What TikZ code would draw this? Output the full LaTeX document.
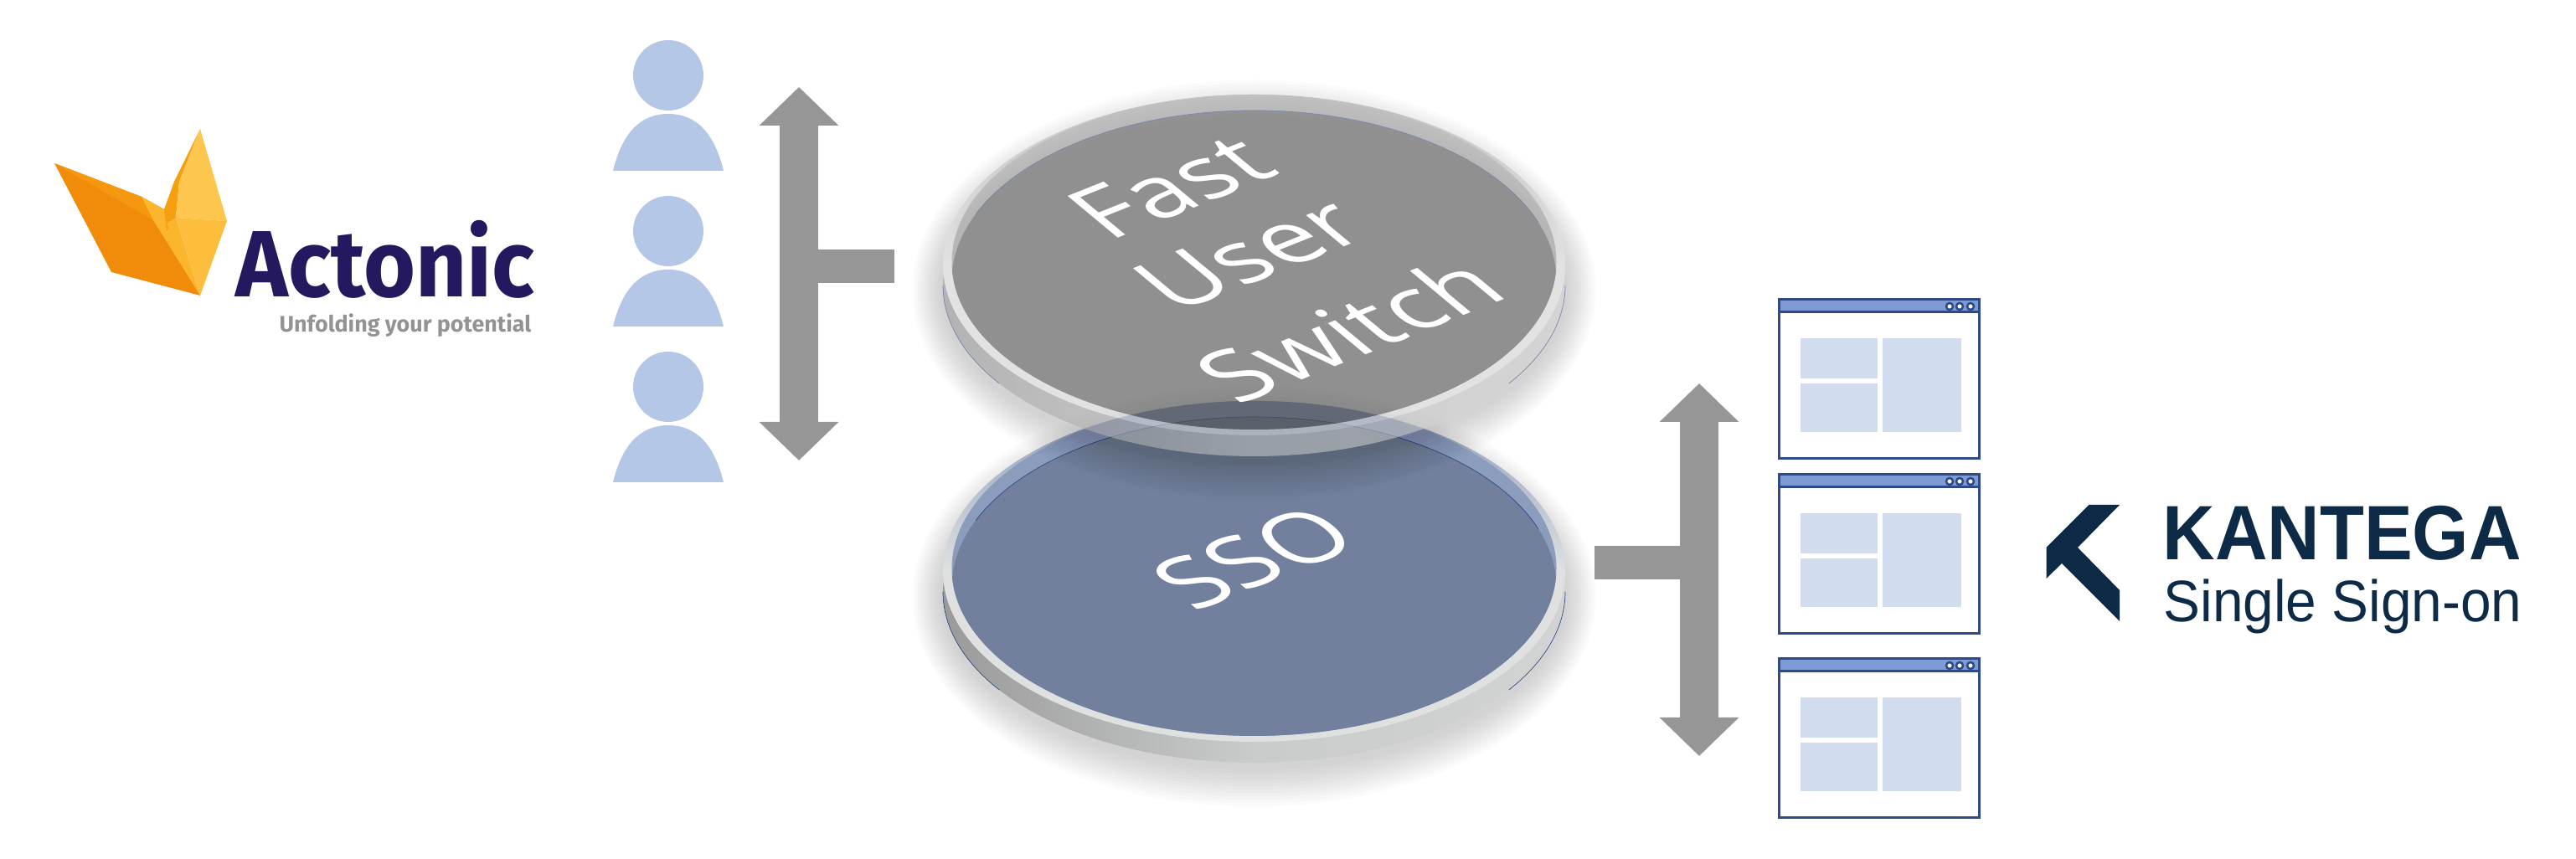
\documentclass[tikz,border=0pt]{standalone}
\usepackage{fontspec}
\setmainfont{Open Sans}
\newfontfamily\actonicfont{Fira Sans}
\newfontfamily\kantegafont{Liberation Sans}
\usetikzlibrary{arrows.meta,shapes.geometric}

\definecolor{usercol}{HTML}{B4C7E7}
\definecolor{arrowcol}{HTML}{969696}
\definecolor{wincol}{HTML}{2F4B87}
\definecolor{barcol}{HTML}{7F9BD6}
\definecolor{panelcol}{HTML}{D2DCEF}
\definecolor{actoniccol}{HTML}{24195F}
\definecolor{kantegacol}{HTML}{0D2A47}
\definecolor{wingcol}{HTML}{F08C0A}
\definecolor{wingmid}{HTML}{F5980F}
\definecolor{wingedge}{HTML}{FBB62E}
\definecolor{foldcol}{HTML}{F6A010}
\definecolor{tailtop}{HTML}{FDC64E}
\definecolor{taillow}{HTML}{FDBE3E}
\definecolor{ssoface}{HTML}{72809E}
\definecolor{ssoback}{HTML}{8C9CBD}
\definecolor{ssorim}{HTML}{DFE1E1}
\definecolor{ssoleft}{HTML}{9A9A9A}
\definecolor{ssoright}{HTML}{D2D4D4}
\definecolor{fusface}{HTML}{5B5B5B}
\definecolor{fusback}{HTML}{9F9F9F}
\definecolor{fusrim}{HTML}{EDEDED}
\definecolor{fusleft}{HTML}{999999}
\definecolor{fusright}{HTML}{D4D4D4}

\tikzset{
  userhead/.style={circle,fill=usercol,inner sep=0pt,minimum size=.84cm},
  fatarrow/.style={draw=arrowcol,line width=.46cm,
    {Triangle[length=.46cm,width=.92cm]}-{Triangle[length=.46cm,width=.92cm]}},
  fatstem/.style={draw=arrowcol,line width=.4cm},
  disclabel/.style={text=white,inner sep=0pt,font=\fontsize{31}{36}\selectfont,
    cm={.995,.396,-.77,.64,(0,0)}}
}

%a person: only the bust, the head is a node
\newcommand{\userbust}[1]{
  \fill[usercol] (7.32,#1) .. controls (7.45,#1+.54) and (7.72,#1+.68) .. (7.98,#1+.68)
     .. controls (8.24,#1+.68) and (8.51,#1+.54) .. (8.64,#1) -- cycle;
}
%an application window, #1 is the height of its top edge
\newcommand{\appwindow}[1]{
  \begin{scope}[shift={(21.24,#1)}]
    \fill[panelcol] (.26,-.46) rectangle (1.18,-.94);
    \fill[panelcol] (.26,-1) rectangle (1.18,-1.58);
    \fill[panelcol] (1.24,-.46) rectangle (2.18,-1.58);
    \draw[wincol,line width=.03cm] (0,0) rectangle (2.39,-1.9);
    \draw[wincol,fill=barcol,line width=.03cm] (0,0) rectangle (2.39,-.15);
    \draw[wincol,fill=white,line width=.025cm] (2.04,-.08) circle (.04);
    \draw[wincol,fill=white,line width=.025cm] (2.16,-.08) circle (.04);
    \draw[wincol,fill=white,line width=.025cm] (2.29,-.08) circle (.04);
  \end{scope}
}
%soft shadow round a disc, #1 is the height of the centre of its rim
\newcommand{\discglow}[1]{
  \foreach \k in {12,...,1}
    \fill[black,opacity=.016] (14.975,#1-.3) ellipse ({3.72+\k*.03} and {2.03+\k*.04});
}
%the glass disc: #1 height, #2 left wall, #3 right wall, #4 rim, #5 back wall, #6 face
\newcommand{\glassdisc}[6]{
  \begin{scope}[shift={(14.975,#1)}]
    \shade[left color=#2,right color=#3,middle color=#3!85!#2] (0,-.245) ellipse (3.715 and 2.04);
    \draw[wincol,line width=.2pt] (0,-.245) ++(180:3.715 and 2.04) arc[start angle=180,end angle=215,x radius=3.715,y radius=2.04];
    \draw[wincol,line width=.2pt] (0,-.245) ++(-35:3.715 and 2.04) arc[start angle=-35,end angle=0,x radius=3.715,y radius=2.04];
    \shade[top color=#5,bottom color=#4,middle color=#4] (0,0) ellipse (3.715 and 2.035);
    \fill[#5] (0,.035) ellipse (3.61 and 2);
    \begin{scope}
      \clip (0,.035) ellipse (3.61 and 2);
      \fill[#6] (0,-.185) ellipse (3.61 and 2.03);
    \end{scope}
    \draw[wincol,line width=.2pt] (0,-.185) ++(157:3.61 and 2.03) arc[start angle=157,end angle=20,x radius=3.61,y radius=2.03];
  \end{scope}
}

\begin{document}
\begin{tikzpicture}
\useasboundingbox (0,0) rectangle (30.76,10.26);

%the Actonic logo
    \fill[wingcol] (.65,8.31) -- (1.69,7.91) -- (1.96,7.76) -- (2.39,6.73) -- (1.33,7.01) -- cycle;
    \fill[wingmid] (.65,8.31) -- (1.69,7.91) -- (1.83,7.63) -- cycle;
    \fill[wingedge] (1.69,7.91) -- (1.96,7.76) -- (1.99,7.59) -- (2.39,6.73) -- (1.83,7.63) -- cycle;
    \fill[foldcol] (2.39,8.72) -- (2.08,8.09) -- (1.96,7.76) -- (1.99,7.5) -- (2.10,7.66) -- (2.14,8.09) -- cycle;
    \fill[wingedge] (1.99,7.59) -- (2.10,7.66) -- (2.39,6.73) -- cycle;
    \fill[tailtop] (2.39,8.72) -- (2.71,7.62) -- (2.10,7.66) -- (2.14,8.09) -- cycle;
    \fill[taillow] (2.10,7.66) -- (2.71,7.62) -- (2.39,6.73) -- cycle;
    \node[anchor=base west,inner sep=0pt,text=actoniccol,xscale=.945] (actonic) at (2.81,6.71)
       {\actonicfont\bfseries\fontsize{32}{38}\selectfont Actonic};
    \node[anchor=base west,inner sep=0pt,text=gray!85] (slogan) at (3.33,6.29)
       {\actonicfont\bfseries\fontsize{7.65}{9}\selectfont Unfolding your potential};

%the users
    \node[userhead] (user1) at (7.98,9.36) {};
    \node[userhead] (user2) at (7.98,7.50) {};
    \node[userhead] (user3) at (7.98,5.64) {};
    \userbust{8.22}
    \userbust{6.36}
    \userbust{4.50}

%the two discs, the lower one first
    \discglow{3.435}
    \glassdisc{3.435}{ssoleft}{ssoright}{ssorim}{ssoback}{ssoface}
    \discglow{7.095}
    \begin{scope}[transparency group,opacity=.56]
      \glassdisc{7.095}{fusleft}{fusright}{fusrim}{fusback}{fusface}
    \end{scope}

%the texts on the discs
    \node[disclabel] (fast) at (13.98,8.03) {Fast};
    \node[disclabel] (user) at (14.92,7.23) {User};
    \node[disclabel] (switch) at (16.10,6.33) {Switch};
    \node[disclabel] (sso) at (14.97,3.60) {SSO};

%the arrows
    \coordinate (usertop) at (9.54,9.22);
    \coordinate (userbot) at (9.54,4.76);
    \coordinate (userjoin) at (9.54,7.08);
    \coordinate (fusedge) at (10.68,7.08);
    \draw[fatstem] (userjoin) -- (fusedge);
    \draw[fatarrow] (userbot) -- (usertop);

    \coordinate (apptop) at (20.29,5.68);
    \coordinate (appbot) at (20.29,1.23);
    \coordinate (appjoin) at (20.29,3.54);
    \coordinate (ssoedge) at (19.04,3.54);
    \draw[fatstem] (ssoedge) -- (appjoin);
    \draw[fatarrow] (appbot) -- (apptop);

%the applications
    \appwindow{6.68}
    \appwindow{4.59}
    \appwindow{2.39}

%the Kantega logo
    \fill[kantegacol] (24.945,4.23) -- (25.31,4.23) -- (24.81,3.72) -- (25.31,3.21) -- (25.31,2.84)
       -- (24.62,3.53) -- (24.435,3.35) -- (24.435,3.72) -- cycle;
    \node[anchor=base west,inner sep=0pt,text=kantegacol,xscale=.94] (kantega) at (25.82,3.57)
       {\kantegafont\bfseries\fontsize{26.2}{30}\selectfont KANTEGA};
    \node[anchor=base west,inner sep=0pt,text=kantegacol,xscale=.94] (signon) at (25.83,2.83)
       {\kantegafont\fontsize{19.9}{24}\selectfont Single Sign-on};
\end{tikzpicture}
\end{document}
